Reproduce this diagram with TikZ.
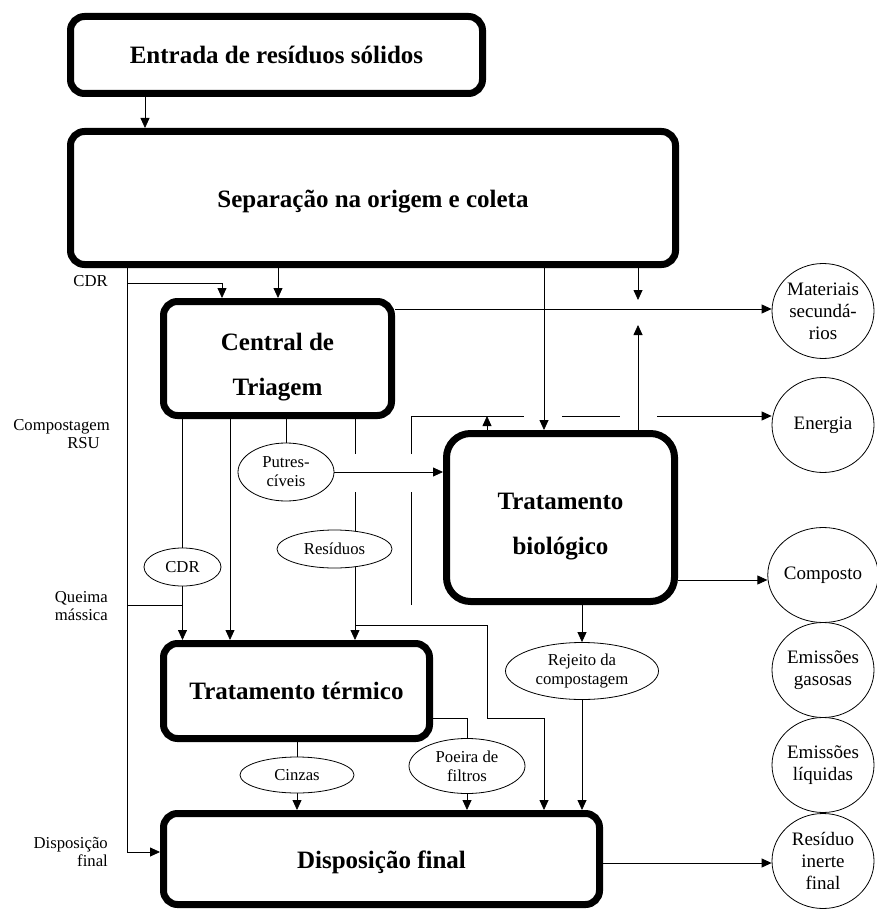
\documentclass[tikz,border=0pt]{standalone}
\usepackage{fontspec}
\setmainfont{Liberation Serif}
\usetikzlibrary{arrows.meta,shapes.geometric}
\pgfdeclarelayer{bg}
\pgfsetlayers{bg,main}
\begin{document}
\begin{tikzpicture}[x=1pt,y=-1pt,
  bigbox/.style={draw, line width=7pt, rounded corners=14pt, font=\bfseries\fontsize{25}{45}\selectfont, align=center, inner sep=0pt},
  oval/.style={draw, ellipse, line width=0.8pt, fill=white, inner sep=0pt, align=center},
  rov/.style={oval, minimum width=102pt, minimum height=95pt, font=\fontsize{19}{22}\selectfont},
  lov/.style={oval, font=\fontsize{16.7}{19}\selectfont},
  lab/.style={font=\fontsize{16.7}{18}\selectfont, align=right, inner sep=0pt, anchor=east},
  conn/.style={line width=0.8pt},
  arr/.style={conn, -{Triangle[length=10pt,width=9pt]}}]

\useasboundingbox (0,0) rectangle (876,909);

% main boxes
\node[bigbox, minimum width=412pt, minimum height=77pt] (ent) at (276.5,55) {Entrada de resíduos sólidos};
\node[bigbox, minimum width=605pt, minimum height=133pt] (sep) at (373,198) {\rule{0pt}{25pt}Separação na origem e coleta};
\node[bigbox, minimum width=228pt, minimum height=114pt] (cen) at (277.5,358.5) {\rule{0pt}{34pt}Central de\\Triagem};
\node[bigbox, rounded corners=24pt, minimum width=228pt, minimum height=168pt] (bio) at (560.5,517.5) {\rule{0pt}{35pt}Tratamento\\biológico};
\node[bigbox, minimum width=266pt, minimum height=95pt] (ter) at (296.5,691) {Tratamento térmico};
\node[bigbox, minimum width=436pt, minimum height=91pt] (dis) at (381.5,859) {\rule{0pt}{24pt}Disposição final};

% outputs (right column)
\node[rov] (mat) at (823,311) {Materiais\\secundá-\\rios};
\node[rov] (ene) at (823,425) {Energia};
\node[rov] (com) at (823,575) {Composto};
\node[rov] (gas) at (823,670) {Emissões\\gasosas};
\node[rov] (liq) at (823,765) {Emissões\\líquidas};
\node[rov] (ine) at (823,861) {Resíduo\\inerte\\final};

% intermediate ellipses
\node[lov, minimum width=96pt, minimum height=58pt] (put) at (286,472) {Putres-\\cíveis};
\node[lov, minimum width=115pt, minimum height=38pt] (res) at (334.5,549) {Resíduos};
\node[lov, minimum width=77pt, minimum height=38pt] (cdr) at (182.5,567) {CDR};
\node[lov, minimum width=114pt, minimum height=36pt] (cin) at (297,775) {Cinzas};
\node[lov, minimum width=116pt, minimum height=55pt] (poe) at (467,766) {Poeira de\\filtros};
\node[lov, minimum width=153pt, minimum height=57pt] (rej) at (582,671) {Rejeito da\\compostagem};

% left labels
\node[lab] (lcdr) at (108,281) {CDR};
\node[lab] (lcomp) at (110,434.5) {Compostagem\\RSU\kern10pt};
\node[lab] (lque) at (108,606) {Queima\\mássica};
\node[lab] (ldis) at (108,852) {Disposição\\final};

% guide coordinates
\coordinate (vA) at (145,0);
\coordinate (vTrunk) at (127,0);
\coordinate (tk) at (127,283);
\coordinate (vCDR) at (222,283);
\coordinate (tq) at (127,605);
\coordinate (td) at (127,852);
\coordinate (vCen) at (278,0);
\coordinate (vBio) at (544,0);
\coordinate (vM) at (638,300);
\coordinate (vMu) at (638,325);
\coordinate (hMat) at (0,309);
\coordinate (v230) at (230,0);
\coordinate (v355a) at (355,454);
\coordinate (v355b) at (355,492);
\coordinate (br1) at (355,625);
\coordinate (br2) at (487,625);
\coordinate (br3) at (487,718);
\coordinate (br4) at (544,718);
\coordinate (e1) at (411,605);
\coordinate (e2) at (411,492);
\coordinate (e3) at (411,454);
\coordinate (e4) at (411,416);
\coordinate (e5) at (524,416);
\coordinate (e6) at (562,416);
\coordinate (e7) at (620,416);
\coordinate (e8) at (657,416);
\coordinate (up) at (487,416);
\coordinate (hCom) at (0,580);
\coordinate (p1) at (467,718);
\coordinate (hIne) at (0,863);

\begin{pgfonlayer}{bg}
\draw[arr] (ent.south -| vA) -- (sep.north -| vA);
\draw[arr] (sep.south -| vTrunk) -- (td) -- (dis.west |- td);
\draw[arr] (tk) -- (vCDR) -- (cen.north -| vCDR);
\draw[arr] (sep.south -| vCen) -- (cen.north -| vCen);
\draw[arr] (sep.south -| vBio) -- (bio.north -| vBio);
\draw[arr] (sep.south -| vM) -- (vM);
\draw[arr] (bio.north -| vMu) -- (vMu);
\draw[arr] (cen.east |- hMat) -- (mat.west |- hMat);
\draw[conn] (cen.south -| cdr.north) -- (cdr.north);
\draw[arr] (cdr.south) -- (ter.north -| cdr.south);
\draw[conn] (tq) -- (tq -| cdr.south);
\draw[arr] (cen.south -| v230) -- (ter.north -| v230);
\draw[conn] (cen.south -| put.north) -- (put.north);
\draw[arr] (put.east) -- (bio.west |- put.east);
\draw[conn] (cen.south -| v355a) -- (v355a);
\draw[arr] (v355b) -- (ter.north -| v355b);
\draw[arr] (br1) -- (br2) -- (br3) -- (br4) -- (dis.north -| br4);
\draw[conn] (e1) -- (e2);
\draw[conn] (e3) -- (e4) -- (e5);
\draw[conn] (e6) -- (e7);
\draw[arr] (e8) -- (ene.west |- e8);
\draw[arr] (bio.north -| up) -- (up);
\draw[arr] (bio.east |- hCom) -- (com.west |- hCom);
\draw[arr] (bio.south -| rej.north) -- (rej.north);
\draw[arr] (rej.south) -- (dis.north -| rej.south);
\draw[conn] (ter.east |- p1) -- (p1) -- (poe.north);
\draw[arr] (poe.south) -- (dis.north -| poe.south);
\draw[conn] (ter.south -| cin.north) -- (cin.north);
\draw[arr] (cin.south) -- (dis.north -| cin.south);
\draw[arr] (dis.east |- hIne) -- (ine.west |- hIne);
\end{pgfonlayer}
\end{tikzpicture}
\end{document}
